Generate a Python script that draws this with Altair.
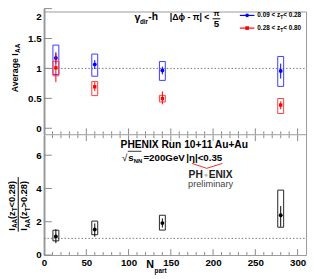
import altair as alt
import pandas as pd

FONT = "Liberation Sans"

# ---- data ----
npart = [14, 60, 140, 280]

blue_y = [1.175, 1.067, 0.965, 0.958]
blue_sys_lo = [0.90, 0.87, 0.80, 0.70]
blue_sys_hi = [1.39, 1.24, 1.115, 1.20]
blue_stat_lo = [1.08, 0.99, 0.90, 0.83]
blue_stat_hi = [1.27, 1.14, 1.03, 1.08]

red_y = [1.01, 0.693, 0.497, 0.388]
red_sys_lo = [0.877, 0.546, 0.44, 0.247]
red_sys_hi = [1.12, 0.78, 0.55, 0.497]
red_stat_lo = [0.77, 0.62, 0.40, 0.318]
red_stat_hi = [1.25, 0.77, 0.616, 0.45]

ratio_y = [1.12, 1.53, 1.92, 2.39]
ratio_sys_lo = [0.85, 1.22, 1.50, 1.67]
ratio_sys_hi = [1.49, 2.04, 2.39, 3.90]
ratio_stat_lo = [0.71, 1.10, 1.65, 1.70]
ratio_stat_hi = [1.55, 1.90, 2.20, 2.94]

box_half_width = 3.5  # in N_part units

x_ticks_major = [50, 100, 150, 200, 250, 300]
x_ticks_minor = [v for v in range(10, 310, 10) if v % 50]
top_y_ticks = [0, 0.5, 1, 1.5, 2]
bot_y_ticks = [0, 2, 4, 6]

# ---- layout ----
W, H = 269, 250
OX, OY = 45, 8
TOP_BOTTOM = 126
BOT_TOP = 127


def px(x):
    return x - OX


def py(y):
    return y - OY


ONE = pd.DataFrame({"a": [0]})

XS = alt.Scale(domain=[0, 310], nice=False, zero=False)
XAX = alt.Axis(values=[0, 50, 100, 150, 200, 250, 300], title="", labelFont=FONT,
               labelFontWeight="bold", labelFontSize=10, labelColor="black",
               labelFlush=False, ticks=False, tickSize=0, domain=False, grid=False,
               labelPadding=3, labelAngle=0)
TS = alt.Scale(domain=[-0.1, 2.0], range=[TOP_BOTTOM, -3], nice=False, zero=False)
BS = alt.Scale(domain=[0, 7.2], range=[H, BOT_TOP], nice=False, zero=False)
TAX = alt.Axis(orient="left", values=top_y_ticks, format="~g", title="", labelFont=FONT,
               labelFontWeight="bold", labelFontSize=10, labelColor="black",
               labelFlush=True, labelFlushOffset=-3, ticks=False, tickSize=0,
               domainColor="#999999", domainWidth=2, labelPadding=3, grid=False)
BAX = alt.Axis(orient="left", values=bot_y_ticks, format="~g", title="", labelFont=FONT,
               labelFontWeight="bold", labelFontSize=10, labelColor="black",
               ticks=False, tickSize=0, domainColor="#999999", domainWidth=2,
               labelPadding=3, grid=False)


def X(field):
    return alt.X(field, scale=XS, axis=XAX)


def series(ys, lo, hi, elo, ehi, scale, color, boxcolor, shape, msize):
    df = pd.DataFrame({"n": npart, "y": ys, "slo": lo, "shi": hi, "elo": elo, "ehi": ehi})
    df["nl"] = df["n"] - box_half_width
    df["nr"] = df["n"] + box_half_width
    box = alt.Chart(df).mark_rect(fillOpacity=0, stroke=boxcolor, strokeWidth=1).encode(
        x=X("nl:Q"), x2="nr:Q", y=alt.Y("slo:Q", scale=scale, axis=None), y2="shi:Q")
    err = alt.Chart(df).mark_rule(color=color, strokeWidth=1).encode(
        x=X("n:Q"), y=alt.Y("elo:Q", scale=scale, axis=None), y2="ehi:Q")
    pts = alt.Chart(df).mark_point(filled=True, shape=shape, size=msize, color=color, opacity=1).encode(
        x=X("n:Q"), y=alt.Y("y:Q", scale=scale, axis=None))
    return [box, err, pts]


def txt(s, x, y, size=10, weight="bold", align="left", angle=0, color="black", baseline="middle"):
    return alt.Chart(ONE).mark_text(text=s, font=FONT, fontSize=size, fontWeight=weight,
                                    align=align, angle=angle, color=color, baseline=baseline).encode(
        x=alt.value(px(x)), y=alt.value(py(y)))


def line(x1, y1, x2, y2, color="black", width=1):
    return alt.Chart(ONE).mark_rule(color=color, strokeWidth=width).encode(
        x=alt.value(px(x1)), y=alt.value(py(y1)), x2=alt.value(px(x2)), y2=alt.value(py(y2)))


layers = []

# reference lines at 1 (carry the y axes)
one_df = pd.DataFrame({"v": [1]})
layers.append(alt.Chart(one_df).mark_rule(color="#777777", strokeDash=[1.5, 2], strokeWidth=1).encode(
    y=alt.Y("v:Q", scale=TS, axis=TAX), x=alt.value(0), x2=alt.value(W)))
layers.append(alt.Chart(one_df).mark_rule(color="#777777", strokeDash=[1.5, 2], strokeWidth=1).encode(
    y=alt.Y("v:Q", scale=BS, axis=BAX), x=alt.value(0), x2=alt.value(W)))

# panel divider
layers.append(alt.Chart(ONE).mark_rule(color="#999999", strokeWidth=1).encode(
    x=alt.value(0), x2=alt.value(W), y=alt.value(TOP_BOTTOM + 0.5)))

# inward y ticks
layers.append(alt.Chart(pd.DataFrame({"v": top_y_ticks})).mark_rule(color="#888888").encode(
    y=alt.Y("v:Q", scale=TS, axis=None), x=alt.value(0), x2=alt.value(8)))
layers.append(alt.Chart(pd.DataFrame({"v": bot_y_ticks})).mark_rule(color="#888888").encode(
    y=alt.Y("v:Q", scale=BS, axis=None), x=alt.value(0), x2=alt.value(8)))

# inward x ticks
maj = pd.DataFrame({"t": x_ticks_major})
mnr = pd.DataFrame({"t": x_ticks_minor})
for d, ln in ((maj, 6), (mnr, 3)):
    layers.append(alt.Chart(d).mark_rule(color="#888888").encode(
        x=X("t:Q"), y=alt.value(TOP_BOTTOM), y2=alt.value(TOP_BOTTOM - ln)))
    layers.append(alt.Chart(d).mark_rule(color="#888888").encode(
        x=X("t:Q"), y=alt.value(BOT_TOP), y2=alt.value(BOT_TOP + ln)))
    layers.append(alt.Chart(d).mark_rule(color="#888888").encode(
        x=X("t:Q"), y=alt.value(H), y2=alt.value(H - ln)))

# data
layers += series(blue_y, blue_sys_lo, blue_sys_hi, blue_stat_lo, blue_stat_hi, TS,
                 "#0000ff", "#3a3aff", "circle", 16)
layers += series(red_y, red_sys_lo, red_sys_hi, red_stat_lo, red_stat_hi, TS,
                 "#ff0000", "#ff3a3a", "square", 12)
layers += series(ratio_y, ratio_sys_lo, ratio_sys_hi, ratio_stat_lo, ratio_stat_hi, BS,
                 "#000000", "#222222", "circle", 16)

# top panel annotation
layers.append(txt("\u03b3", 138, 15, size=11))
layers.append(txt("dir", 143.5, 19, size=6.5))
layers.append(txt("-h", 152, 14, size=10.5))
layers.append(txt("|\u0394\u03d5 - \u03c0| <", 174, 14, size=9))
layers.append(txt("\u03c0", 222, 11, size=8, align="center"))
layers.append(line(218, 15.5, 226, 15.5, "black", 1))
layers.append(txt("5", 222, 20.5, size=10, align="center"))

# legend
for yy, col, shp in ((12, "#0000ff", "circle"), (25, "#ff0000", "square")):
    layers.append(line(246, yy, 261, yy, col, 1.2))
    layers.append(alt.Chart(ONE).mark_point(filled=True, shape=shp, size=14, color=col, opacity=1).encode(
        x=alt.value(px(253.5)), y=alt.value(py(yy))))
lo_lab = ["0.09 < z", "0.28 < z"]
hi_lab = [" < 0.28", " < 0.80"]
for yy, a, b in ((12, lo_lab[0], hi_lab[0]), (25, lo_lab[1], hi_lab[1])):
    layers.append(txt(a, 264, yy, size=6.5))
    layers.append(txt("T", 287.6, yy + 2, size=5))
    layers.append(txt(b, 290.6, yy, size=6.5))

# bottom panel annotation
layers.append(txt("PHENIX Run 10+11 Au+Au", 189, 145, size=10.5, align="center"))
layers.append(txt("\u221a", 125, 158, size=10, weight="normal"))
layers.append(line(131, 151.5, 145, 151.5, "black", 0.8))
layers.append(txt("s", 131.5, 158, size=10))
layers.append(txt("NN", 137.2, 162, size=6))
layers.append(txt("=200GeV", 147, 158, size=10))
layers.append(txt("|\u03b7|<0.35", 191, 158, size=10))
layers.append(line(197, 164, 212, 169, "#e03030", 1))
layers.append(line(212, 169, 228, 164, "#e03030", 1))
layers.append(txt("PH", 208, 175.5, size=10.5, align="right", color="#222222"))
layers.append(txt("\u25cf", 211, 175.5, size=7, align="center", color="#bbbbbb"))
layers.append(txt("ENIX", 214, 175.5, size=10.5, color="#222222"))
layers.append(txt("preliminary", 216, 185, size=9.5, weight="normal", align="center", color="#444444"))

# x title
layers.append(txt("N", 150, 268, size=11))
layers.append(txt("part", 158.5, 274.5, size=6.5))

# y title (top)
layers.append(txt("Average I", 15, 91, size=9, angle=270))
layers.append(txt("AA", 18.5, 91 - 40.5, size=6.5, angle=270))


# y title (bottom) as a fraction
def frac_piece(xmain, xsub, rel):
    y0 = 233
    out = []
    out.append(txt("I", xmain, y0, size=9.5, angle=270))
    out.append(txt("AA", xsub, y0 - 2.64, size=6.5, angle=270))
    out.append(txt("(z", xmain, y0 - 12.03, size=9.5, angle=270))
    out.append(txt("T", xsub, y0 - 19.94, size=6.5, angle=270))
    out.append(txt(rel + "0.28)", xmain, y0 - 23.91, size=9.5, angle=270))
    return out


layers += frac_piece(12, 15.5, "<")
layers += frac_piece(25, 28.5, ">")
layers.append(line(18.5, 178, 18.5, 234, "black", 1))

chart = alt.layer(*layers).resolve_scale(y="independent").resolve_axis(y="independent").properties(
    width=W, height=H,
    autosize=alt.AutoSizeParams(type="none"),
    padding={"left": 37, "top": 0, "right": 2, "bottom": 21},
).configure_view(stroke="#999999", strokeWidth=1).configure_axis(grid=False)

chart.save("out.html", embed_options={"renderer": "svg", "actions": False})
